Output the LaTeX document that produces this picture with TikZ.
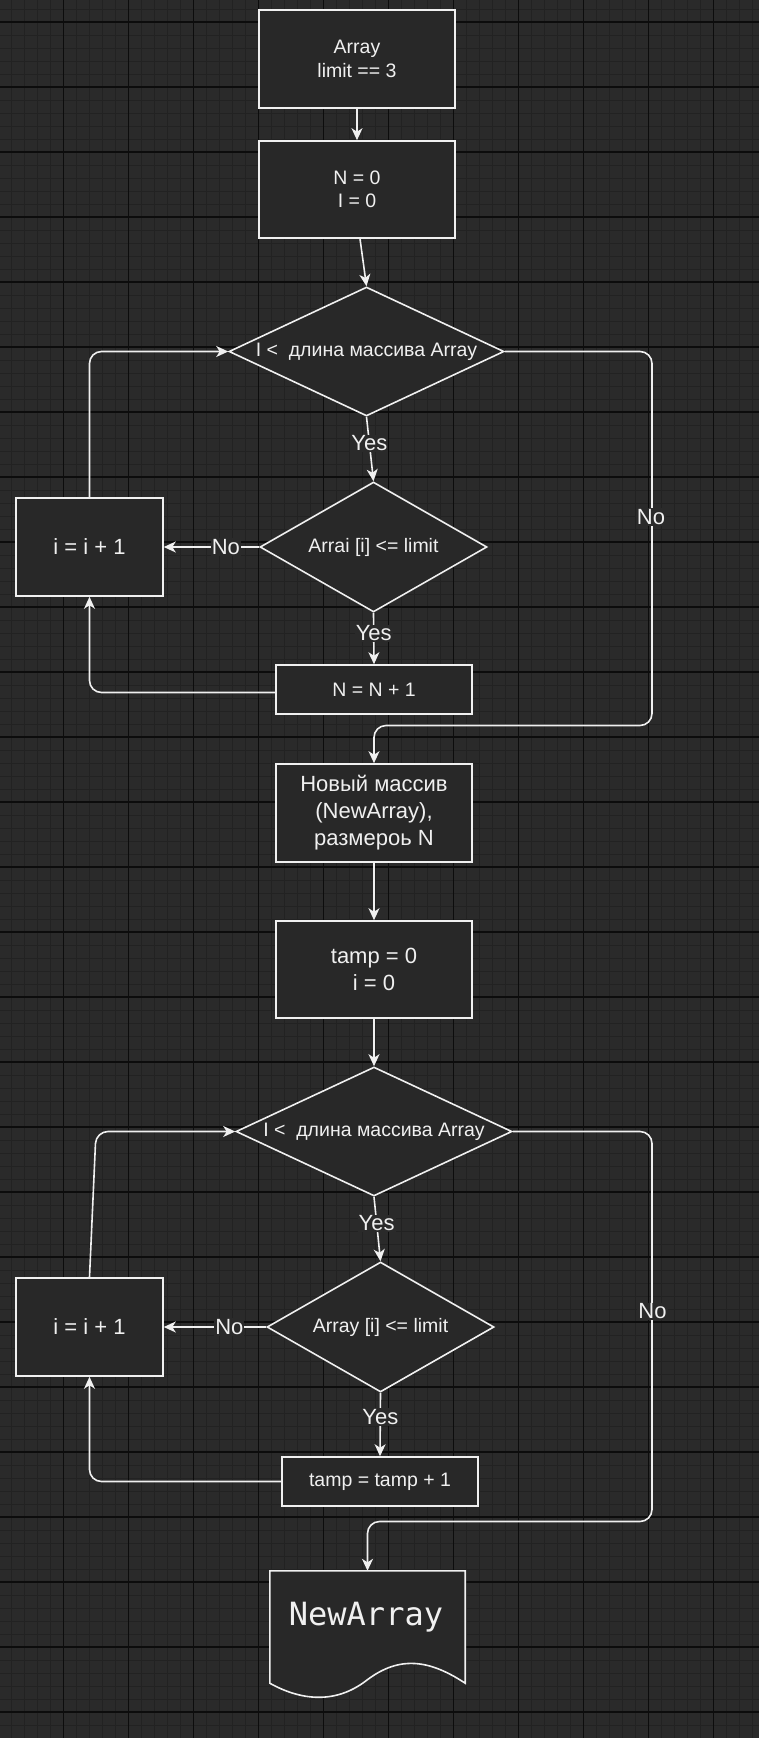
\documentclass[tikz,border=0pt]{standalone}
\usepackage{fontspec}
\setmainfont{Liberation Sans}
\setmonofont{DejaVu Sans Mono}
\usetikzlibrary{shapes.geometric,arrows.meta}

\definecolor{bg}{HTML}{2A2A2A}
\definecolor{gridminor}{HTML}{222222}
\definecolor{gridmajor}{HTML}{0C0C0C}
\definecolor{ink}{HTML}{F0F0F0}
\definecolor{boxfill}{HTML}{282828}

\newcommand{\txtA}{\fontsize{19.5}{23.5}\selectfont}
\newcommand{\txtB}{\fontsize{22}{27}\selectfont}

\begin{document}
\begin{tikzpicture}[x=1pt,y=-1pt,
  box/.style={draw=ink, fill=boxfill, line width=1.6pt, text=ink, align=center,
              inner sep=0pt, font=\txtA},
  dia/.style={diamond, draw=ink, fill=boxfill, line width=1.6pt, text=ink,
              align=center, inner sep=0pt, font=\txtA},
  flow/.style={draw=ink, line width=1.6pt,
               -{Stealth[length=12pt,width=11pt,inset=3.5pt]}},
  lbl/.style={fill=bg, text=ink, inner sep=1pt, font=\txtB}]

% canvas and grid
\fill[bg] (0,0) rectangle (759,1738);
\useasboundingbox (0,0) rectangle (759,1738);
\foreach \k in {-4,...,53}
  \draw[gridminor, line width=1pt] ({63.5+13*\k},0) -- ++(0,1738);
\foreach \k in {-1,...,132}
  \draw[gridminor, line width=1pt] (0,{22+13*\k}) -- ++(759,0);
\foreach \k in {-1,...,10}
  \draw[gridmajor, line width=1.3pt] ({63.5+65*\k},0) -- ++(0,1738);
\foreach \k in {0,...,26}
  \draw[gridmajor, line width=1.3pt] (0,{22+65*\k}) -- ++(759,0);

% first pass: count the elements not above the limit
\node[box, minimum width=196pt, minimum height=98pt] (init) at (357,59) {Array\\limit == 3};
\node[box, minimum width=196pt, minimum height=97pt] (setn) at (357,189.5) {N = 0\\I = 0};
\node[dia, minimum width=275pt, minimum height=129pt, aspect=2.13] (loop1) at (366.5,351.5)
  {I <\ \ длина массива Array};
\node[dia, minimum width=227pt, minimum height=130pt, aspect=1.75] (chk1) at (373.5,547)
  {Arrai [i] <= limit};
\node[box, minimum width=196pt, minimum height=49pt] (incn) at (374,689.5) {N = N + 1};
\node[box, minimum width=147pt, minimum height=98pt, font=\txtB] (inci1) at (89.5,547) {i = i + 1};

% second pass: fill the new array
\node[box, minimum width=196pt, minimum height=98pt, font=\txtB] (alloc) at (374,813)
  {Новый массив\\(NewArray),\\размероь N};
\node[box, minimum width=196pt, minimum height=97pt, font=\txtB] (setT) at (374,969.5) {tamp = 0\\i = 0};
\node[dia, minimum width=276pt, minimum height=129pt, aspect=2.13] (loop2) at (374,1131.5)
  {I <\ \ длина массива Array};
\node[dia, minimum width=227pt, minimum height=130pt, aspect=1.75] (chk2) at (380.5,1327)
  {Array [i] <= limit};
\node[box, minimum width=196pt, minimum height=49pt] (incT) at (380,1481.5) {tamp = tamp + 1};
\node[box, minimum width=147pt, minimum height=98pt, font=\txtB] (inci2) at (89.5,1327) {i = i + 1};

% output document
\node[minimum width=195pt, minimum height=112pt, inner sep=0pt] (result) at (367.5,1627) {};
\draw[draw=ink, fill=boxfill, line width=1.6pt]
  (result.north west) -- (result.north east) -- (result.south east)
  .. controls (430,1660) and (400,1655) .. (367,1680)
  .. controls (335,1705) and (300,1700) .. (result.south west) -- cycle;
\node[text=ink, font=\ttfamily\fontsize{32}{38}\selectfont] (resulttext) at (366,1617) {NewArray};

% connectors, first pass
\draw[flow] (init) -- (setn);
\draw[flow] ([xshift=3pt]setn.south) -- (loop1.north);
\draw[flow] (loop1.south) -- (chk1.north) node[lbl, pos=0.41] (y1) {Yes};
\draw[flow] (chk1.south) -- (incn.north) node[lbl, pos=0.40] (y2) {Yes};
\draw[flow] (chk1.west) -- (inci1.east) node[lbl, pos=0.35] (n1) {No};
\draw[flow, rounded corners=12pt] (inci1.north) |- (loop1.west);
\draw[flow, rounded corners=12pt] ([yshift=-3pt]incn.west) -| (inci1.south);
\coordinate (r1) at (652,725.5);
\draw[flow, rounded corners=12pt] (loop1.east) -| (r1) -| (alloc.north);
\node[lbl] (n2) at (651,517) {No};

% connectors, second pass
\draw[flow] (alloc) -- (setT);
\draw[flow] (setT) -- (loop2);
\draw[flow] (loop2.south) -- (chk2.north) node[lbl, pos=0.41] (y3) {Yes};
\draw[flow] (chk2.south) -- (incT.north) node[lbl, pos=0.38] (y4) {Yes};
\draw[flow] (chk2.west) -- (inci2.east) node[lbl, pos=0.36] (n3) {No};
\coordinate (bend2) at (96,1131.5);
\draw[flow, rounded corners=12pt] (inci2.north) -- (bend2) -- (loop2.west);
\draw[flow, rounded corners=12pt] (incT.west) -| (inci2.south);
\coordinate (r2) at (652,1521.5);
\draw[flow, rounded corners=12pt] (loop2.east) -| (r2) -| (result.north);
\node[lbl] (n4) at (652.5,1311.5) {No};
\end{tikzpicture}
\end{document}
